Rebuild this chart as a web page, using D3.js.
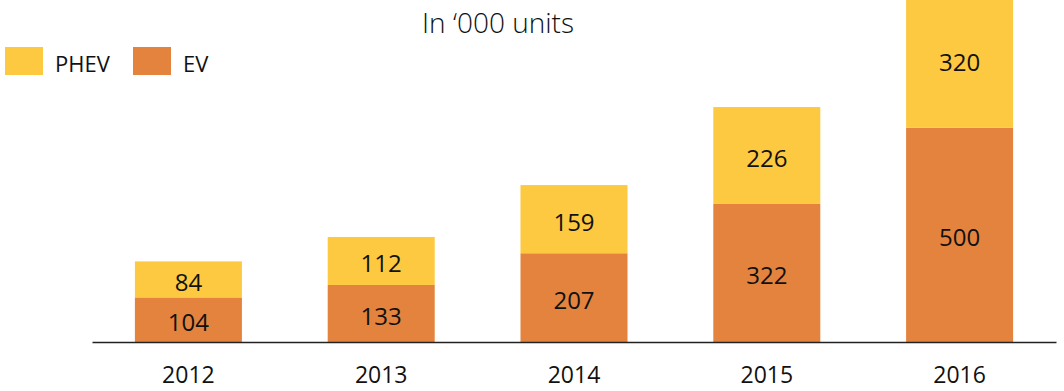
<!DOCTYPE html>
<html>
<head>
<meta charset="utf-8">
<script src="https://cdn.jsdelivr.net/npm/d3@7"></script>
<style>
  html, body { margin: 0; padding: 0; background: #fff; }
  svg { display: block; font-family: "Open Sans", sans-serif; }
</style>
</head>
<body>
<svg id="chart" width="1064" height="391"></svg>
<script>
// Annual sales, in thousand units
const years = ["2012", "2013", "2014", "2015", "2016"];
const evValues = [104, 133, 207, 322, 500];
const phevValues = [84, 112, 159, 226, 320];

const seriesNames = ["EV", "PHEV"];
const colors = { EV: "#E3833E", PHEV: "#FCC940" };

const rows = years.map((yr, i) => ({ year: yr, EV: evValues[i], PHEV: phevValues[i] }));

const svg = d3.select("#chart");
const baseY = 342;

const x = d3.scaleBand()
  .domain(years)
  .range([92, 1056])
  .paddingInner(0.445)
  .paddingOuter(0.2225);

const y = d3.scaleLinear()
  .domain([0, 800])
  .range([baseY, -1]);

const stack = d3.stack().keys(seriesNames);
const layers = stack(rows);

const g = svg.append("g");

layers.forEach(layer => {
  const key = layer.key;
  g.selectAll(null)
    .data(layer)
    .join("rect")
    .attr("x", d => x(d.data.year))
    .attr("width", x.bandwidth())
    .attr("y", d => y(d[1]))
    .attr("height", d => y(d[0]) - y(d[1]))
    .attr("fill", colors[key]);

  g.selectAll(null)
    .data(layer)
    .join("text")
    .attr("x", d => x(d.data.year) + x.bandwidth() / 2)
    .attr("y", d => (y(d[0]) + y(d[1])) / 2 + 11.5)
    .attr("text-anchor", "middle")
    .attr("font-size", 24)
    .attr("fill", "#111")
    .text(d => d.data[key]);
});

// Baseline axis
const xAxis = d3.axisBottom(x).tickSize(0).tickPadding(16);
const axisG = svg.append("g")
  .attr("transform", `translate(0,${baseY})`)
  .call(xAxis);
axisG.select(".domain").attr("stroke", "#222").attr("stroke-width", 1.5);
axisG.selectAll("text")
  .attr("font-size", 23)
  .attr("font-family", "Open Sans, sans-serif")
  .attr("fill", "#111")
  .attr("dy", "0")
  .attr("y", 41);

// Title
svg.append("text")
  .attr("x", 498)
  .attr("y", 33)
  .attr("text-anchor", "middle")
  .attr("font-size", 28)
  .attr("font-weight", 300)
  .attr("fill", "#111")
  .text("In \u2018000 units");

// Legend
const legendItems = [
  { name: "PHEV", x: 5 },
  { name: "EV", x: 133 }
];
const legend = svg.append("g");
legendItems.forEach(item => {
  legend.append("rect")
    .attr("x", item.x)
    .attr("y", 47)
    .attr("width", 38)
    .attr("height", 28)
    .attr("fill", colors[item.name]);
  legend.append("text")
    .attr("x", item.x + 50)
    .attr("y", 72)
    .attr("font-size", 22)
    .attr("fill", "#111")
    .text(item.name);
});
</script>
</body>
</html>
